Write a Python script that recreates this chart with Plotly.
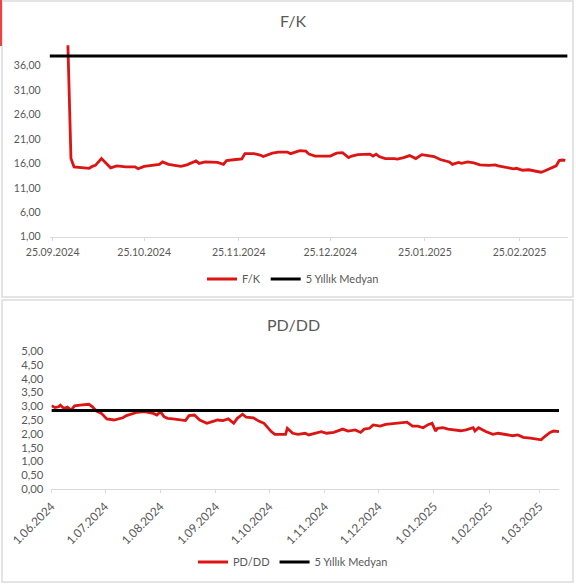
import plotly.graph_objects as go

# ---------------- data: F/K ----------------
fk_dates = [
    "2024-09-30", "2024-10-01", "2024-10-02", "2024-10-04", "2024-10-07", "2024-10-08",
    "2024-10-09", "2024-10-11", "2024-10-14", "2024-10-16", "2024-10-19", "2024-10-22",
    "2024-10-23", "2024-10-25", "2024-10-28", "2024-10-30", "2024-10-31", "2024-11-02",
    "2024-11-06", "2024-11-08", "2024-11-11", "2024-11-12", "2024-11-14", "2024-11-17",
    "2024-11-18", "2024-11-20", "2024-11-21", "2024-11-24", "2024-11-26", "2024-11-27",
    "2024-11-30", "2024-12-02", "2024-12-03", "2024-12-06", "2024-12-08", "2024-12-11",
    "2024-12-12", "2024-12-14", "2024-12-15", "2024-12-17", "2024-12-18", "2024-12-20",
    "2024-12-21", "2024-12-23", "2024-12-25", "2024-12-27", "2024-12-29", "2024-12-31",
    "2025-01-01", "2025-01-03", "2025-01-06", "2025-01-07", "2025-01-08", "2025-01-09",
    "2025-01-10", "2025-01-12", "2025-01-15", "2025-01-16", "2025-01-18", "2025-01-20",
    "2025-01-22", "2025-01-24", "2025-01-25", "2025-01-28", "2025-01-30", "2025-02-02",
    "2025-02-03", "2025-02-05", "2025-02-06", "2025-02-08", "2025-02-10", "2025-02-12",
    "2025-02-15", "2025-02-17", "2025-02-18", "2025-02-20", "2025-02-21", "2025-02-23",
    "2025-02-24", "2025-02-26", "2025-02-28", "2025-03-02", "2025-03-04", "2025-03-05",
    "2025-03-07", "2025-03-09", "2025-03-10", "2025-03-11", "2025-03-12",
]
fk_values = [
    40.2, 17.0, 15.3, 15.2, 15.0, 15.4,
    15.6, 17.0, 15.1, 15.5, 15.3, 15.3,
    14.9, 15.4, 15.7, 15.8, 16.3, 15.8,
    15.4, 15.7, 16.5, 16.0, 16.3, 16.3,
    16.2, 15.8, 16.6, 16.8, 16.9, 18.0,
    18.0, 17.7, 17.4, 18.1, 18.3, 18.3,
    18.0, 18.4, 18.6, 18.5, 17.9, 17.5,
    17.5, 17.4, 17.5, 18.1, 18.2, 17.2,
    17.5, 17.8, 17.8, 17.9, 17.5, 17.9,
    17.4, 17.0, 17.0, 16.9, 17.2, 17.6,
    17.0, 17.8, 17.7, 17.4, 16.8, 16.3,
    15.8, 16.2, 16.0, 16.3, 16.1, 15.7,
    15.6, 15.7, 15.5, 15.3, 15.2, 14.9,
    15.0, 14.6, 14.7, 14.5, 14.2, 14.4,
    15.0, 15.5, 16.6, 16.7, 16.6,
]
fk_median_dates = ["2024-09-24", "2025-03-12 18:00"]
fk_median_values = [38.0, 38.0]
fk_tick_dates = ["2024-09-25", "2024-10-25", "2024-11-25", "2024-12-25", "2025-01-25", "2025-02-25"]
fk_tick_text = ["25.09.2024", "25.10.2024", "25.11.2024", "25.12.2024", "25.01.2025", "25.02.2025"]
fk_y_ticks = [1, 6, 11, 16, 21, 26, 31, 36]

# ---------------- data: PD/DD ----------------
pd_dates = [
    "2024-06-01", "2024-06-03", "2024-06-05", "2024-06-06", "2024-06-08", "2024-06-10",
    "2024-06-12", "2024-06-14", "2024-06-17", "2024-06-22", "2024-06-24", "2024-06-26",
    "2024-06-29", "2024-07-02", "2024-07-06", "2024-07-09", "2024-07-11", "2024-07-13",
    "2024-07-16", "2024-07-19", "2024-07-23", "2024-07-25", "2024-07-28", "2024-07-30",
    "2024-08-01", "2024-08-03", "2024-08-05", "2024-08-08", "2024-08-12", "2024-08-15",
    "2024-08-17", "2024-08-20", "2024-08-23", "2024-08-27", "2024-08-30", "2024-09-02",
    "2024-09-05", "2024-09-08", "2024-09-11", "2024-09-13", "2024-09-16", "2024-09-18",
    "2024-09-22", "2024-09-25", "2024-09-28", "2024-10-02", "2024-10-04", "2024-10-07",
    "2024-10-10", "2024-10-11", "2024-10-14", "2024-10-17", "2024-10-21", "2024-10-23",
    "2024-10-26", "2024-10-30", "2024-11-02", "2024-11-06", "2024-11-11", "2024-11-14",
    "2024-11-18", "2024-11-21", "2024-11-23", "2024-11-26", "2024-11-28", "2024-12-02",
    "2024-12-05", "2024-12-10", "2024-12-14", "2024-12-17", "2024-12-20", "2024-12-23",
    "2024-12-26", "2024-12-29", "2024-12-31", "2025-01-02", "2025-01-03", "2025-01-06",
    "2025-01-09", "2025-01-13", "2025-01-16", "2025-01-19", "2025-01-21", "2025-01-23",
    "2025-01-24", "2025-01-26", "2025-01-30", "2025-02-03", "2025-02-06", "2025-02-10",
    "2025-02-14", "2025-02-17", "2025-02-20", "2025-02-24", "2025-02-28", "2025-03-02",
    "2025-03-04", "2025-03-07", "2025-03-09", "2025-03-12",
]
pd_values = [
    3.02, 2.95, 2.98, 3.04, 2.92, 2.97,
    2.86, 3.01, 3.04, 3.07, 2.98, 2.83,
    2.74, 2.54, 2.50, 2.56, 2.58, 2.66,
    2.71, 2.78, 2.80, 2.78, 2.74, 2.68,
    2.80, 2.62, 2.56, 2.54, 2.50, 2.48,
    2.66, 2.68, 2.50, 2.38, 2.44, 2.50,
    2.48, 2.54, 2.38, 2.56, 2.71, 2.60,
    2.58, 2.46, 2.38, 2.08, 1.98, 1.98,
    1.98, 2.20, 2.02, 1.98, 2.02, 1.96,
    2.02, 2.08, 2.02, 2.05, 2.17, 2.10,
    2.14, 2.05, 2.17, 2.20, 2.32, 2.28,
    2.34, 2.38, 2.40, 2.42, 2.28, 2.28,
    2.22, 2.34, 2.38, 2.10, 2.20, 2.22,
    2.17, 2.14, 2.11, 2.14, 2.17, 2.22,
    2.10, 2.22, 2.08, 1.98, 2.02, 1.98,
    1.93, 1.96, 1.87, 1.84, 1.80, 1.78,
    1.90, 2.05, 2.10, 2.08,
]
pd_median_dates = ["2024-06-01", "2025-03-12"]
pd_median_values = [2.84, 2.84]
pd_tick_dates = ["2024-06-01", "2024-07-01", "2024-08-01", "2024-09-01", "2024-10-01",
                 "2024-11-01", "2024-12-01", "2025-01-01", "2025-02-01", "2025-03-01"]
pd_tick_text = ["1.06.2024", "1.07.2024", "1.08.2024", "1.09.2024", "1.10.2024",
                "1.11.2024", "1.12.2024", "1.01.2025", "1.02.2025", "1.03.2025"]
pd_y_ticks = [0, 0.5, 1, 1.5, 2, 2.5, 3, 3.5, 4, 4.5, 5]

# ---------------- styling ----------------
W, H = 576, 584
RED = "#dd1414"
GRAY_TXT = "#595959"
AXIS_GRAY = "#d9d9d9"
FONT = "Lato"


def px_x(p):
    return p / W


def px_y(p):
    return 1 - p / H


fig = go.Figure()

fig.add_trace(go.Scatter(x=fk_dates, y=fk_values, mode="lines", name="F/K",
                         line=dict(color=RED, width=2.8), xaxis="x", yaxis="y",
                         legend="legend"))
fig.add_trace(go.Scatter(x=fk_median_dates, y=fk_median_values, mode="lines",
                         name="5 Yıllık Medyan", line=dict(color="black", width=3),
                         xaxis="x", yaxis="y", legend="legend"))
fig.add_trace(go.Scatter(x=pd_dates, y=pd_values, mode="lines", name="PD/DD",
                         line=dict(color=RED, width=2.8), xaxis="x2", yaxis="y2",
                         legend="legend2"))
fig.add_trace(go.Scatter(x=pd_median_dates, y=pd_median_values, mode="lines",
                         name="5 Yıllık Medyan", line=dict(color="black", width=3),
                         xaxis="x2", yaxis="y2", legend="legend2"))


def axis_common(size):
    return dict(showgrid=False, zeroline=False, automargin=False,
                tickfont=dict(family=FONT, size=size, color=GRAY_TXT))


fig.update_layout(
    width=W, height=H, autosize=False,
    margin=dict(l=0, r=0, t=0, b=0, pad=0, autoexpand=False),
    paper_bgcolor="white", plot_bgcolor="white",
    separators=",.",
    font=dict(family=FONT, color=GRAY_TXT),
    xaxis=dict(domain=[px_x(49.6), px_x(567.6)], anchor="y", type="date",
               range=["2024-09-24", "2025-03-12 18:00"],
               tickvals=fk_tick_dates, ticktext=fk_tick_text, tickangle=0,
               showline=True, linecolor=AXIS_GRAY, linewidth=1,
               ticks="outside", ticklen=3, tickcolor=AXIS_GRAY,
               ticklabelstandoff=3, **axis_common(10.5)),
    yaxis=dict(domain=[px_y(236.7), px_y(44.7)], anchor="x", range=[1, 40.3],
               tickvals=fk_y_ticks, tickformat=".2f", showline=False, ticks="",
               ticklabelstandoff=8, **axis_common(10.5)),
    xaxis2=dict(domain=[px_x(51.4), px_x(559)], anchor="y2", type="date",
                range=["2024-06-01", "2025-03-12"],
                tickvals=pd_tick_dates, ticktext=pd_tick_text, tickangle=-45,
                showline=True, linecolor=AXIS_GRAY, linewidth=1,
                ticks="outside", ticklen=3, tickcolor=AXIS_GRAY,
                ticklabelstandoff=2, **axis_common(11.8)),
    yaxis2=dict(domain=[px_y(489), px_y(351)], anchor="x2", range=[0, 5],
                tickvals=pd_y_ticks, tickformat=".2f", showline=False, ticks="",
                ticklabelstandoff=7, **axis_common(11.3)),
    legend=dict(orientation="h", x=px_x(293), y=px_y(279), xanchor="center",
                yanchor="middle", font=dict(family=FONT, size=11, color=GRAY_TXT),
                bgcolor="rgba(0,0,0,0)", itemwidth=30, tracegroupgap=0),
    legend2=dict(orientation="h", x=px_x(293), y=px_y(562), xanchor="center",
                 yanchor="middle", font=dict(family=FONT, size=11, color=GRAY_TXT),
                 bgcolor="rgba(0,0,0,0)", itemwidth=30, tracegroupgap=0),
    annotations=[
        dict(text="F/K", x=px_x(293), y=px_y(21), xref="paper", yref="paper",
             showarrow=False, xanchor="center", yanchor="middle",
             font=dict(family=FONT, size=16, color=GRAY_TXT)),
        dict(text="PD/DD", x=px_x(293), y=px_y(325), xref="paper", yref="paper",
             showarrow=False, xanchor="center", yanchor="middle",
             font=dict(family=FONT, size=16, color=GRAY_TXT)),
    ],
    shapes=[
        dict(type="rect", xref="paper", yref="paper", x0=px_x(2), x1=px_x(573),
             y0=px_y(297), y1=px_y(1), line=dict(color="#dcdcdc", width=1.5)),
        dict(type="rect", xref="paper", yref="paper", x0=px_x(2), x1=px_x(573),
             y0=px_y(582), y1=px_y(300), line=dict(color="#dcdcdc", width=1.5)),
        dict(type="line", xref="paper", yref="paper", x0=px_x(1), x1=px_x(1),
             y0=px_y(46), y1=px_y(0), line=dict(color="#f04040", width=2)),
    ],
)

fig.write_html("out.html", config={"displayModeBar": False},
               post_script="document.body.style.margin='0px';")
